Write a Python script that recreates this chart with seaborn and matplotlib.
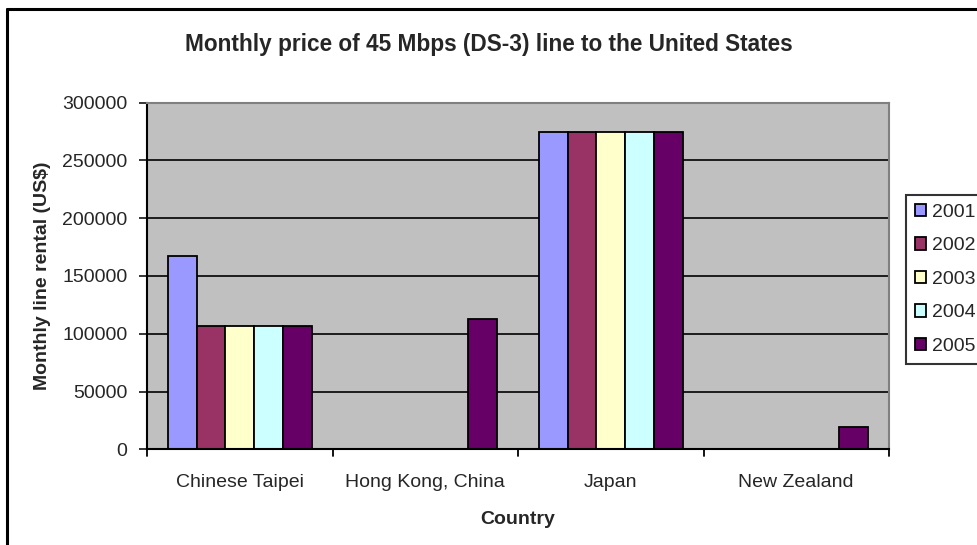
import numpy as np
import pandas as pd
import matplotlib
matplotlib.use("Agg")
import matplotlib.pyplot as plt
from matplotlib.lines import Line2D
from matplotlib.patches import Patch
import seaborn as sns

countries = ["Chinese Taipei", "Hong Kong, China", "Japan", "New Zealand"]
years = ["2001", "2002", "2003", "2004", "2005"]
v2001 = [167500, np.nan, 275000, np.nan]
v2002 = [107000, np.nan, 275000, np.nan]
v2003 = [107000, np.nan, 275000, np.nan]
v2004 = [107000, np.nan, 275000, np.nan]
v2005 = [107000, 113000, 275000, 19500]
colors = ["#9999FF", "#993366", "#FFFFCC", "#CCFFFF", "#660066"]
yticks = [0, 50000, 100000, 150000, 200000, 250000, 300000]

series = [v2001, v2002, v2003, v2004, v2005]
rows = []
for y, vals in zip(years, series):
    for c, v in zip(countries, vals):
        rows.append({"Country": c, "Year": y, "Value": v})
df = pd.DataFrame(rows).dropna()

sns.set_style("white")
plt.rcParams["font.family"] = ["Liberation Sans", "DejaVu Sans"]

W, H = 977, 545
fig = plt.figure(figsize=(W / 100, H / 100), dpi=100)
ax = fig.add_axes([147 / W, 1 - 449.3 / H, (889 - 147) / W, (449.3 - 102.7) / H])
ax.set_facecolor("#C0C0C0")

sns.barplot(data=df, x="Country", y="Value", hue="Year", order=countries,
            hue_order=years, palette=colors, width=0.775, edgecolor="black",
            linewidth=1.3, saturation=1, ax=ax, legend=False, zorder=3)

ax.set_xlim(-0.5, 3.5)
ax.set_ylim(0, 300000)
ax.set_yticks(yticks)
ax.set_yticklabels([str(t) for t in yticks], fontsize=14)
for t in yticks[1:-1]:
    ax.axhline(t, color="black", lw=1.2, zorder=1)

ax.set_xticks(range(4))
ax.set_xticklabels(countries, fontsize=14)
ax.tick_params(axis="x", length=0, pad=18)
for b in [-0.5, 0.5, 1.5, 2.5, 3.5]:
    ax.plot([b, b], [0, -0.018], transform=ax.get_xaxis_transform(),
            color="black", lw=1.3, clip_on=False)
ax.tick_params(axis="y", length=6, width=1.3, direction="out", left=True, pad=8)

ax.spines["left"].set_color("black")
ax.spines["left"].set_linewidth(1.5)
ax.spines["bottom"].set_color("black")
ax.spines["bottom"].set_linewidth(1.5)
ax.spines["top"].set_color("#808080")
ax.spines["top"].set_linewidth(1.5)
ax.spines["right"].set_color("#808080")
ax.spines["right"].set_linewidth(1.5)
for s in ax.spines.values():
    s.set_zorder(5)

ax.set_xlabel("Country", fontsize=14, fontweight="bold", labelpad=14)
ax.set_ylabel("Monthly line rental (US$)", fontsize=14, fontweight="bold", labelpad=8)
fig.text(0.5, 1 - 45 / H, "Monthly price of 45 Mbps (DS-3) line to the United States",
         ha="center", va="center", fontsize=16.3, fontweight="bold")

handles = [Patch(facecolor=c, edgecolor="black", linewidth=1.3) for c in colors]
leg = fig.legend(handles, years, loc="upper left",
                 bbox_to_anchor=(906 / W, 1 - 195 / H), fontsize=14,
                 frameon=True, fancybox=False, edgecolor="black",
                 handlelength=0.6, handleheight=0.6, handletextpad=0.3,
                 labelspacing=0.85, borderpad=0.45, borderaxespad=0)
leg.get_frame().set_linewidth(1.5)

fig.add_artist(Line2D([7 / W, 7 / W], [0, 1 - 8.5 / H], transform=fig.transFigure,
                      color="black", lw=2.2))
fig.add_artist(Line2D([7 / W, 1], [1 - 8.5 / H, 1 - 8.5 / H], transform=fig.transFigure,
                      color="black", lw=2.2))

fig.savefig("out.png", dpi=100, facecolor="white")
